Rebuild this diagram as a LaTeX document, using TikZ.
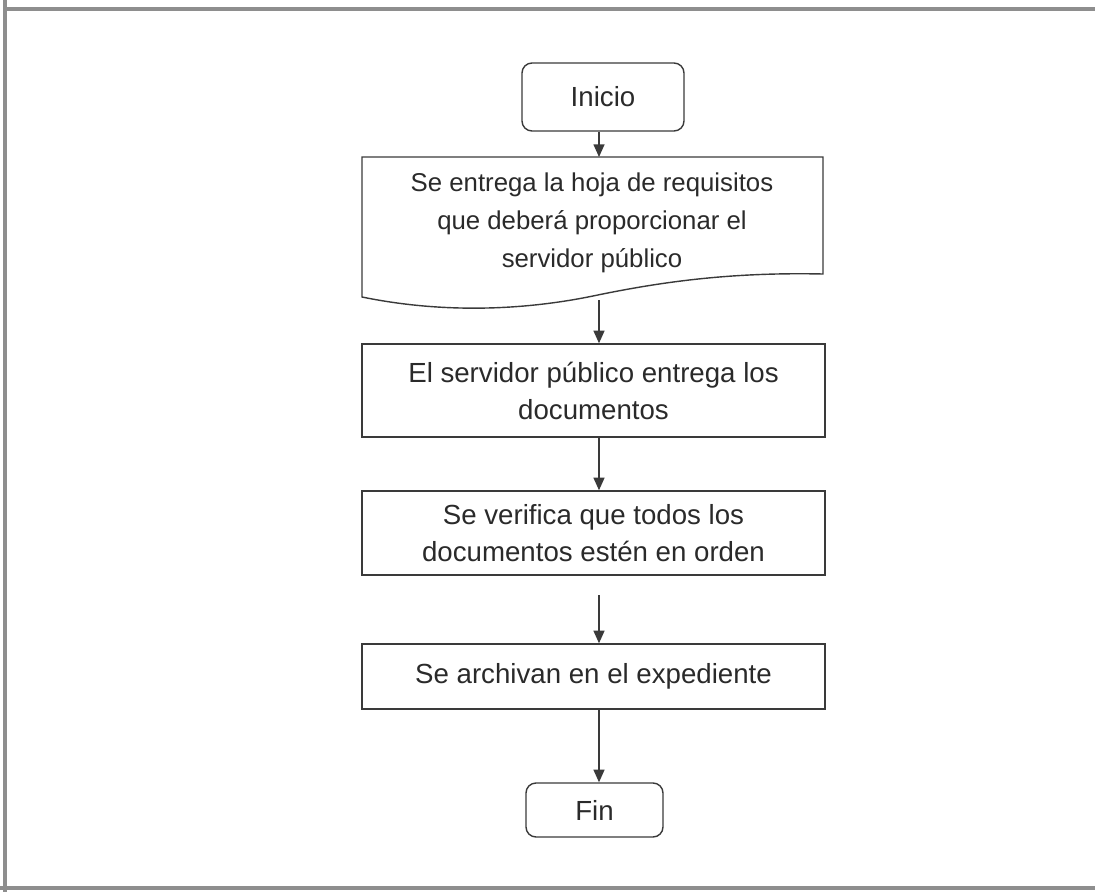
\documentclass[tikz,border=0pt]{standalone}
\usepackage{fontspec}
\setmainfont{Liberation Sans}
\usetikzlibrary{arrows.meta,calc}
\definecolor{ln}{HTML}{3A3A3A}
\definecolor{tx}{HTML}{2A2A2A}
\definecolor{fr}{HTML}{8E8E8E}
\tikzset{
  procbox/.style={draw=ln, line width=1.2pt, rectangle, minimum width=13.89cm, align=center, text=tx,
    font=\fontsize{23.6}{31.5}\selectfont, inner sep=0pt},
  termbox/.style={draw=ln, line width=1.2pt, rectangle, rounded corners=0.3cm, align=center, text=tx,
    font=\fontsize{23.6}{31.5}\selectfont, inner sep=0pt},
  arr/.style={draw=ln, line width=1.2pt, -{Triangle[length=3.8mm,width=3.3mm]}},
  frame/.style={draw=fr, line width=2.8pt}
}
\begin{document}
\begin{tikzpicture}[x=0.03cm,y=-0.03cm]
\useasboundingbox (0,0) rectangle (1095,892);
% outer frame
\coordinate (ftl) at (5,0);
\coordinate (fbl) at (5,892);
\coordinate (ttl) at (5,9);
\coordinate (ttr) at (1095,9);
\coordinate (bbl) at (0,888);
\coordinate (bbr) at (1095,888);
\draw[frame] (ftl) -- (fbl);
\draw[frame] (ttl) -- (ttr);
\draw[frame] (bbl) -- (bbr);

\coordinate (ax) at (599,0);

% Inicio
\node[termbox, minimum width=4.86cm, minimum height=2.04cm] (ini) at (603,97) {Inicio};

% document shape
\coordinate (dtl) at (362,157);
\coordinate (dtr) at (823,157);
\coordinate (dbr) at (823,274);
\coordinate (dbl) at (362,297);
\draw[draw=ln, line width=1.2pt] (dbl) -- (dtl) -- (dtr) -- (dbr)
  .. controls (730,272) and (660,282) .. (593,296)
  .. controls (520,311) and (440,313) .. (dbl) -- cycle;
\node[align=center, text=tx, font=\fontsize{22}{32.5}\selectfont, inner sep=0pt] (doc) at (592,223)
  {Se entrega la hoja de requisitos\\que deberá proporcionar el\\servidor público};
\coordinate (docb) at (599,300);

% process boxes
\node[procbox, minimum height=2.79cm] (b2) at (593.5,390.5) {El servidor público entrega los\\documentos};
\node[procbox, minimum height=2.52cm] (b3) at (593.5,533) {Se verifica que todos los\\documentos estén en orden};
\node[procbox, minimum height=1.95cm] (b4) at (593.5,676.5) {Se archivan en el expediente};
\coordinate (b3gap) at (599,595);

% Fin
\node[termbox, minimum width=4.11cm, minimum height=1.62cm] (fin) at (594.5,810) {Fin};

% arrows
\draw[arr] (ini.south -| ax) -- (dtl -| ax);
\draw[arr] (docb) -- (b2.north -| ax);
\draw[arr] (b2.south -| ax) -- (b3.north -| ax);
\draw[arr] (b3gap) -- (b4.north -| ax);
\draw[arr] (b4.south -| ax) -- (fin.north -| ax);
\end{tikzpicture}
\end{document}
